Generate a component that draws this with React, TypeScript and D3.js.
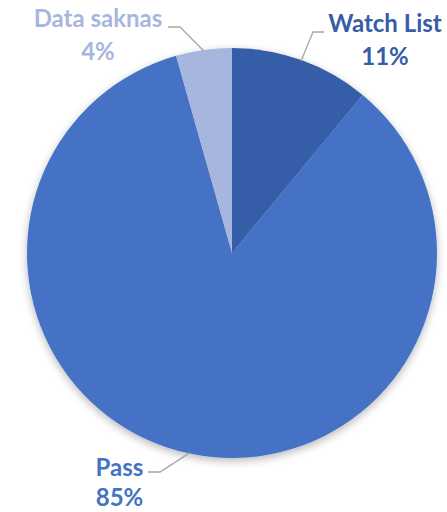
import React from "react";
import * as d3 from "d3";

const categories = ["Watch List", "Pass", "Data saknas"];
const values = [11.0, 84.6, 4.4];
const colors = ["#355da8", "#4472c4", "#a7b6de"];

// label block centre (x), first baseline (y), line gap, plus leader elbow/end
const labelPos = [
  { x: 385, y: 32, gap: 33, elbow: [313, 32], end: [324, 32] },
  { x: 119.5, y: 476, gap: 30, elbow: [160, 472], end: [148, 472] },
  { x: 98, y: 27, gap: 33, elbow: [180, 27], end: [168, 27] },
];

const width = 447;
const height = 512;
const cx = 232;
const cy = 253;
const radius = 205;

type Datum = { label: string; value: number; color: string };

const App: React.FC = () => {
  const data: Datum[] = categories.map((c, i) => ({ label: c, value: values[i], color: colors[i] }));
  const total = d3.sum(values);

  const pie = d3.pie<Datum>().value((d) => d.value).sort(null);
  const arc = d3.arc<d3.PieArcDatum<Datum>>().innerRadius(0).outerRadius(radius);
  const arcs = pie(data);

  return (
    <svg
      width={width}
      height={height}
      style={{ position: "absolute", left: 0, top: 0 }}
      fontFamily="Lato, 'Open Sans', sans-serif"
    >
      <defs>
        <filter id="shadow" x="-20%" y="-20%" width="140%" height="140%">
          <feDropShadow dx="0" dy="3" stdDeviation="4" floodColor="#000" floodOpacity="0.28" />
        </filter>
      </defs>
      <g transform={`translate(${cx},${cy})`} filter="url(#shadow)">
        {arcs.map((a, i) => (
          <path key={i} d={arc(a) ?? ""} fill={a.data.color} />
        ))}
      </g>
      {arcs.map((a, i) => {
        const mid = (a.startAngle + a.endAngle) / 2;
        const sx = cx + Math.sin(mid) * (radius - 1);
        const sy = cy - Math.cos(mid) * (radius - 1);
        const p = labelPos[i];
        const pct = d3.format(".0%")(a.data.value / total);
        return (
          <g key={`l${i}`}>
            <polyline
              points={`${sx},${sy} ${p.elbow[0]},${p.elbow[1]} ${p.end[0]},${p.end[1]}`}
              fill="none"
              stroke="#a6a6a6"
              strokeWidth={1.3}
            />
            <text
              x={p.x}
              y={p.y}
              textAnchor="middle"
              fontSize={24}
              fontWeight="bold"
              fill={a.data.color}
            >
              {a.data.label}
            </text>
            <text
              x={p.x}
              y={p.y + p.gap}
              textAnchor="middle"
              fontSize={24}
              fontWeight="bold"
              fill={a.data.color}
            >
              {pct}
            </text>
          </g>
        );
      })}
    </svg>
  );
};

export default App;
